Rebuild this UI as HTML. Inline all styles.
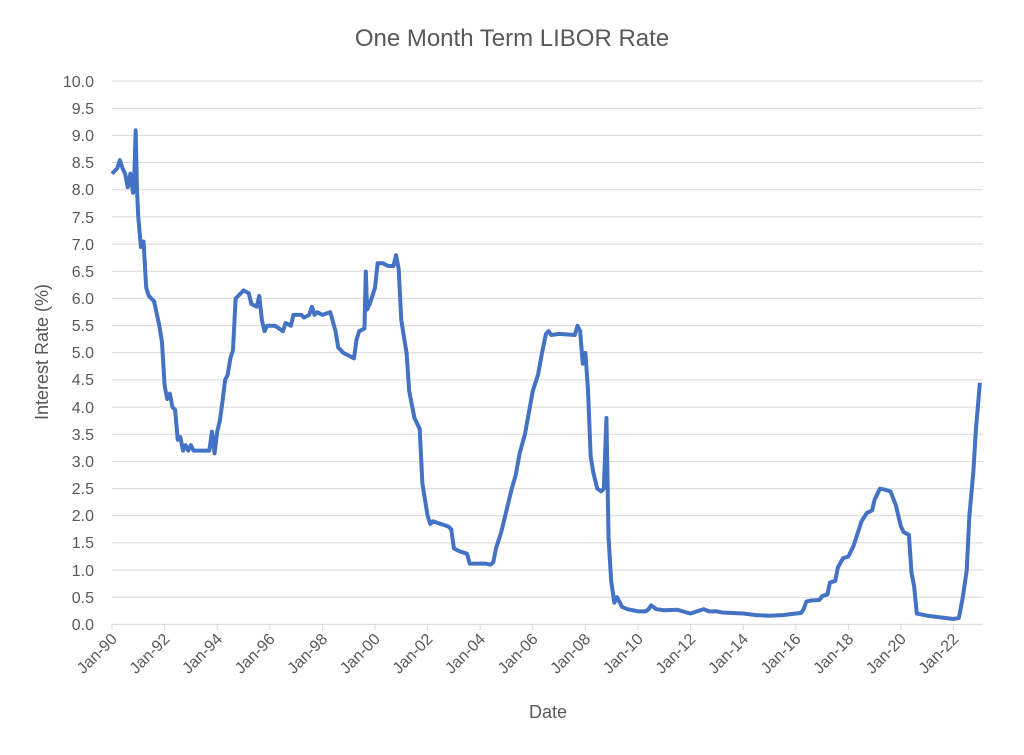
<!DOCTYPE html>
<html><head><meta charset="utf-8"><style>
body{margin:0;background:#fff;}
svg text{font-family:"Liberation Sans",sans-serif;fill:#595959;}
</style></head><body>
<svg width="1024" height="750" viewBox="0 0 1024 750" xmlns="http://www.w3.org/2000/svg">
<rect width="1024" height="750" fill="#fff"/>
<text x="512" y="46" font-size="24" text-anchor="middle">One Month Term LIBOR Rate</text>
<g stroke="#d9d9d9" stroke-width="1">
<line x1="112" x2="983" y1="81" y2="81"/><line x1="112" x2="983" y1="108.2" y2="108.2"/>
<line x1="112" x2="983" y1="135.4" y2="135.4"/><line x1="112" x2="983" y1="162.5" y2="162.5"/>
<line x1="112" x2="983" y1="189.7" y2="189.7"/><line x1="112" x2="983" y1="216.9" y2="216.9"/>
<line x1="112" x2="983" y1="244.1" y2="244.1"/><line x1="112" x2="983" y1="271.2" y2="271.2"/>
<line x1="112" x2="983" y1="298.4" y2="298.4"/><line x1="112" x2="983" y1="325.6" y2="325.6"/>
<line x1="112" x2="983" y1="352.7" y2="352.7"/><line x1="112" x2="983" y1="379.9" y2="379.9"/>
<line x1="112" x2="983" y1="407.1" y2="407.1"/><line x1="112" x2="983" y1="434.2" y2="434.2"/>
<line x1="112" x2="983" y1="461.4" y2="461.4"/><line x1="112" x2="983" y1="488.6" y2="488.6"/>
<line x1="112" x2="983" y1="515.7" y2="515.7"/><line x1="112" x2="983" y1="542.9" y2="542.9"/>
<line x1="112" x2="983" y1="570.1" y2="570.1"/><line x1="112" x2="983" y1="597.2" y2="597.2"/>
<line x1="112" x2="983" y1="624.4" y2="624.4"/>
<line x1="112" x2="112" y1="624" y2="630"/><line x1="164.6" x2="164.6" y1="624" y2="630"/>
<line x1="217.2" x2="217.2" y1="624" y2="630"/><line x1="269.8" x2="269.8" y1="624" y2="630"/>
<line x1="322.4" x2="322.4" y1="624" y2="630"/><line x1="375" x2="375" y1="624" y2="630"/>
<line x1="427.6" x2="427.6" y1="624" y2="630"/><line x1="480.2" x2="480.2" y1="624" y2="630"/>
<line x1="532.8" x2="532.8" y1="624" y2="630"/><line x1="585.4" x2="585.4" y1="624" y2="630"/>
<line x1="638" x2="638" y1="624" y2="630"/><line x1="690.6" x2="690.6" y1="624" y2="630"/>
<line x1="743.2" x2="743.2" y1="624" y2="630"/><line x1="795.8" x2="795.8" y1="624" y2="630"/>
<line x1="848.4" x2="848.4" y1="624" y2="630"/><line x1="901" x2="901" y1="624" y2="630"/>
<line x1="953.6" x2="953.6" y1="624" y2="630"/>
</g>
<g font-size="16" text-anchor="end">
<text x="94" y="87">10.0</text><text x="94" y="114">9.5</text><text x="94" y="141">9.0</text>
<text x="94" y="168">8.5</text><text x="94" y="195">8.0</text><text x="94" y="223">7.5</text>
<text x="94" y="250">7.0</text><text x="94" y="277">6.5</text><text x="94" y="304">6.0</text>
<text x="94" y="331">5.5</text><text x="94" y="358">5.0</text><text x="94" y="385">4.5</text>
<text x="94" y="413">4.0</text><text x="94" y="440">3.5</text><text x="94" y="467">3.0</text>
<text x="94" y="494">2.5</text><text x="94" y="521">2.0</text><text x="94" y="548">1.5</text>
<text x="94" y="576">1.0</text><text x="94" y="603">0.5</text><text x="94" y="630">0.0</text>
</g>
<g font-size="16" text-anchor="end">
<text transform="translate(118,640) rotate(-45)">Jan-90</text>
<text transform="translate(170.6,640) rotate(-45)">Jan-92</text>
<text transform="translate(223.2,640) rotate(-45)">Jan-94</text>
<text transform="translate(275.8,640) rotate(-45)">Jan-96</text>
<text transform="translate(328.4,640) rotate(-45)">Jan-98</text>
<text transform="translate(381,640) rotate(-45)">Jan-00</text>
<text transform="translate(433.6,640) rotate(-45)">Jan-02</text>
<text transform="translate(486.2,640) rotate(-45)">Jan-04</text>
<text transform="translate(538.8,640) rotate(-45)">Jan-06</text>
<text transform="translate(591.4,640) rotate(-45)">Jan-08</text>
<text transform="translate(644,640) rotate(-45)">Jan-10</text>
<text transform="translate(696.6,640) rotate(-45)">Jan-12</text>
<text transform="translate(749.2,640) rotate(-45)">Jan-14</text>
<text transform="translate(801.8,640) rotate(-45)">Jan-16</text>
<text transform="translate(854.4,640) rotate(-45)">Jan-18</text>
<text transform="translate(907,640) rotate(-45)">Jan-20</text>
<text transform="translate(959.6,640) rotate(-45)">Jan-22</text>
</g>
<text x="548" y="718" font-size="18" text-anchor="middle">Date</text>
<text transform="translate(48,352) rotate(-90)" font-size="18" text-anchor="middle">Interest Rate  (%)</text>
<g transform="translate(112,624.4) scale(26.3,-54.3)">
<polyline fill="none" stroke="#4472c4" stroke-width="4" stroke-linejoin="round" vector-effect="non-scaling-stroke" points="0,8.3 0.1,8.35 0.2,8.4 0.3,8.55 0.4,8.4 0.5,8.3 0.6,8.05 0.7,8.3 0.8,7.95 0.85,8.3 0.9,9.1 0.95,8 1,7.5 1.1,6.95 1.2,7.05 1.3,6.2 1.4,6.05 1.6,5.95 1.8,5.5 1.9,5.2 2,4.4 2.1,4.15 2.2,4.25 2.3,4 2.4,3.95 2.5,3.4 2.6,3.45 2.7,3.2 2.8,3.3 2.9,3.2 3,3.3 3.1,3.2 3.5,3.2 3.7,3.2 3.8,3.55 3.9,3.15 4,3.55 4.1,3.75 4.2,4.1 4.3,4.5 4.4,4.6 4.5,4.9 4.6,5.05 4.7,6 4.8,6.05 5,6.15 5.2,6.1 5.3,5.9 5.5,5.85 5.6,6.05 5.7,5.6 5.8,5.4 5.9,5.5 6.2,5.5 6.5,5.4 6.6,5.55 6.8,5.5 6.9,5.7 7.2,5.7 7.3,5.65 7.5,5.7 7.6,5.85 7.7,5.7 7.8,5.75 8,5.7 8.3,5.75 8.5,5.4 8.6,5.1 8.8,5 9,4.95 9.2,4.9 9.3,5.25 9.4,5.4 9.6,5.45 9.65,6.5 9.7,5.8 9.8,5.9 10,6.2 10.1,6.65 10.3,6.65 10.5,6.6 10.7,6.6 10.8,6.8 10.9,6.55 11,5.6 11.2,5 11.3,4.3 11.5,3.8 11.7,3.6 11.8,2.6 12,2 12.1,1.85 12.2,1.9 12.5,1.85 12.8,1.8 12.9,1.75 13,1.4 13.2,1.35 13.5,1.3 13.6,1.12 13.8,1.12 14.2,1.12 14.4,1.1 14.5,1.15 14.6,1.4 14.8,1.7 15,2.1 15.2,2.5 15.35,2.75 15.5,3.15 15.7,3.5 16,4.3 16.2,4.6 16.35,5 16.5,5.35 16.6,5.4 16.7,5.33 17.0,5.35 17.6,5.33 17.7,5.5 17.8,5.4 17.9,4.8 18,5 18.1,4.3 18.2,3.1 18.3,2.8 18.45,2.5 18.6,2.45 18.7,2.5 18.8,3.8 18.88,1.6 18.98,0.8 19.1,0.4 19.2,0.5 19.4,0.32 19.6,0.28 20,0.24 20.3,0.24 20.4,0.28 20.5,0.35 20.7,0.28 21,0.26 21.5,0.27 21.7,0.24 22,0.2 22.3,0.25 22.5,0.28 22.7,0.24 23,0.24 23.2,0.22 24,0.2 24.5,0.17 25,0.16 25.5,0.17 26,0.2 26.2,0.21 26.3,0.28 26.4,0.42 26.6,0.44 26.9,0.45 27,0.52 27.2,0.55 27.3,0.77 27.5,0.8 27.6,1.05 27.8,1.22 28,1.25 28.2,1.45 28.3,1.6 28.5,1.9 28.7,2.05 28.9,2.1 29,2.3 29.2,2.5 29.4,2.48 29.6,2.45 29.8,2.2 30,1.8 30.1,1.7 30.3,1.65 30.4,0.95 30.5,0.7 30.6,0.2 31,0.16 31.5,0.13 32,0.1 32.2,0.12 32.35,0.5 32.5,1 32.6,2 32.75,2.8 32.85,3.6 33,4.45"/>
</g>
</svg>
</body></html>
